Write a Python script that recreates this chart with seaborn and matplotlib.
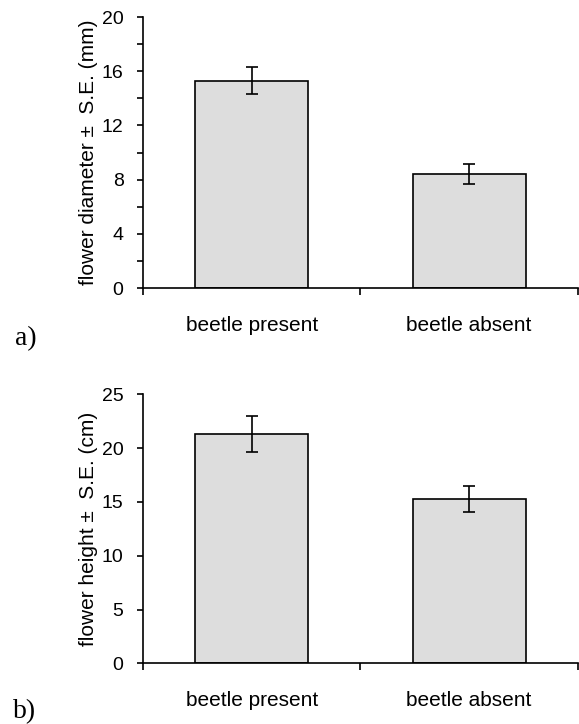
import matplotlib
matplotlib.use("Agg")
import matplotlib.pyplot as plt
import seaborn as sns
import pandas as pd
from matplotlib.ticker import MultipleLocator

# data
groups = ["beetle present", "beetle absent"]
diameter = [15.3, 8.4]
diameter_se = [1.0, 0.75]
height = [21.3, 15.3]
height_se = [1.65, 1.2]

sns.set_style("white")
plt.rcParams["font.family"] = ["Liberation Sans", "DejaVu Sans"]
plt.rcParams["text.color"] = "black"
plt.rcParams["axes.labelcolor"] = "black"
plt.rcParams["xtick.color"] = "black"
plt.rcParams["ytick.color"] = "black"

fig = plt.figure(figsize=(5.79, 7.24), dpi=100)
ax1 = fig.add_axes([0.247, 0.602, 0.751, 0.3745])
ax2 = fig.add_axes([0.247, 0.0838, 0.751, 0.3716])


def panel(ax, vals, se, ymax, step, ylabel, minor=None):
    df = pd.DataFrame({"group": groups, "value": vals})
    sns.barplot(data=df, x="group", y="value", color="#dddddd",
                edgecolor="black", linewidth=1.2, width=0.52, saturation=1, ax=ax)
    ax.errorbar(x=[0, 1], y=vals, yerr=se, fmt="none", ecolor="black",
                elinewidth=1.2, capsize=4.5, capthick=1.2)
    ax.set_xlim(-0.5, 1.5)
    ax.set_ylim(0, ymax)
    ax.yaxis.set_major_locator(MultipleLocator(step))
    if minor:
        ax.yaxis.set_minor_locator(MultipleLocator(minor))
    ax.set_xticks([-0.5, 0.5, 1.5])
    ax.set_xticklabels([])
    ax.set_xticks([0, 1], minor=True)
    ax.set_xticklabels(groups, minor=True)
    ax.tick_params(axis="x", which="major", direction="out", length=5, width=1.2, bottom=True)
    ax.tick_params(axis="x", which="minor", length=0, pad=20, labelsize=15)
    ax.tick_params(axis="y", which="both", direction="out", length=4, width=1.2, left=True,
                   labelsize=14, pad=10)
    ax.set_xlabel("")
    ax.set_ylabel(ylabel, fontsize=15, labelpad=3)
    for s in ["top", "right"]:
        ax.spines[s].set_visible(False)
    for s in ["left", "bottom"]:
        ax.spines[s].set_color("black")
        ax.spines[s].set_linewidth(1.2)


panel(ax1, diameter, diameter_se, 20, 4, "flower diameter \u00b1  S.E. (mm)", minor=2)
panel(ax2, height, height_se, 25, 5, "flower height \u00b1  S.E. (cm)")

fig.text(0.026, 0.5235, "a)", fontsize=20, va="baseline",
         family=["Liberation Serif", "DejaVu Serif"])
fig.text(0.022, 0.0083, "b)", fontsize=20, va="baseline",
         family=["Liberation Serif", "DejaVu Serif"])

fig.savefig("out.png", dpi=100)
